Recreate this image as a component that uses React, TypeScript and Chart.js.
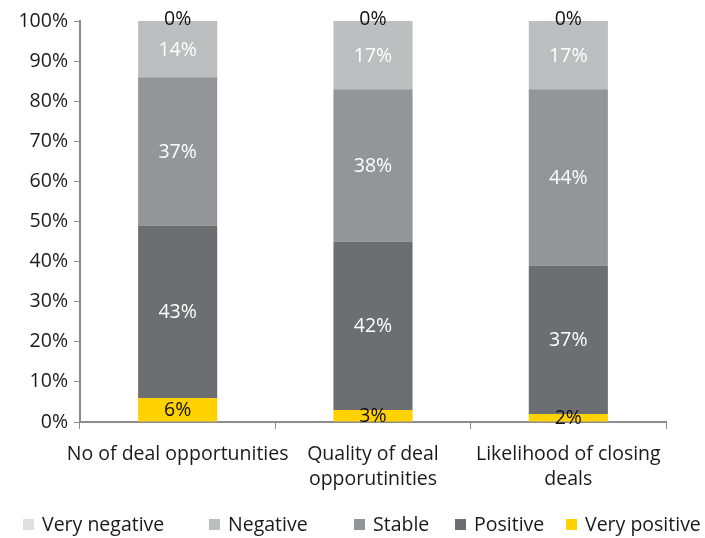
import React, { useEffect, useRef } from "react";
import { Chart, registerables } from "chart.js";

Chart.register(...registerables);

const categories: (string | string[])[] = [
  "No of deal opportunities",
  ["Quality of deal", "opporutinities"],
  ["Likelihood of closing", "deals"],
];
const veryPositive = [6, 3, 2];
const positive = [43, 42, 37];
const stable = [37, 38, 44];
const negative = [14, 17, 17];
const veryNegative = [0, 0, 0];

const seriesNames = ["Very positive", "Positive", "Stable", "Negative", "Very negative"];
const seriesColors = ["#FFD200", "#6D6E71", "#939598", "#BCBEC0", "#DEDFE0"];
const labelColors = ["#111111", "#FFFFFF", "#FFFFFF", "#FFFFFF", "#111111"];

const FONT = "'Open Sans'";
const FS = 19.5;
const TEXT = "#1a1a1a";
const legendOrder = [4, 3, 2, 1, 0];
const legendBoxX = [23, 209, 354, 455, 566];

const dataLabelPlugin = {
  id: "segLabels",
  afterDatasetsDraw(chart: any) {
    const ctx = chart.ctx;
    ctx.save();
    ctx.font = `${FS}px ${FONT}`;
    ctx.textAlign = "center";
    ctx.textBaseline = "middle";
    chart.data.datasets.forEach((ds: any, di: number) => {
      const meta = chart.getDatasetMeta(di);
      meta.data.forEach((el: any, i: number) => {
        const v = ds.data[i];
        const p = el.getProps(["x", "y", "base"], true);
        let cy = (p.y + p.base) / 2;
        if (v === 0) cy -= 3;
        ctx.fillStyle = labelColors[di];
        ctx.fillText(`${v}%`, p.x, cy + 1);
      });
    });
    ctx.restore();
  },
};

const legendPlugin = {
  id: "customLegend",
  afterDraw(chart: any) {
    const ctx = chart.ctx;
    ctx.save();
    ctx.font = `${FS}px ${FONT}`;
    ctx.textAlign = "left";
    ctx.textBaseline = "middle";
    const y = 525;
    legendOrder.forEach((di, k) => {
      const x = legendBoxX[k];
      ctx.fillStyle = seriesColors[di];
      ctx.fillRect(x, y - 6, 11, 11);
      ctx.fillStyle = TEXT;
      ctx.fillText(seriesNames[di], x + 19, y);
    });
    ctx.restore();
  },
};

export default function App() {
  const ref = useRef<HTMLCanvasElement>(null);
  useEffect(() => {
    document.body.style.margin = "0";
    const series = [veryPositive, positive, stable, negative, veryNegative];
    const chart = new Chart(ref.current!, {
      type: "bar",
      data: {
        labels: categories as any,
        datasets: series.map((d, i) => ({
          label: seriesNames[i],
          data: d,
          backgroundColor: seriesColors[i],
          borderWidth: 0,
          categoryPercentage: 1,
          barPercentage: 0.405,
        })),
      },
      options: {
        animation: false,
        responsive: false,
        devicePixelRatio: 1,
        layout: { padding: { top: 21, right: 39, left: 0, bottom: 0 } },
        plugins: { legend: { display: false }, tooltip: { enabled: false } },
        scales: {
          x: {
            stacked: true,
            grid: {
              offset: true,
              drawOnChartArea: false,
              drawTicks: true,
              tickLength: 7,
              color: "#8c8c8c",
            },
            border: { color: "#8c8c8c", width: 2 },
            ticks: {
              color: TEXT,
              font: { family: FONT, size: FS, lineHeight: 1.28 },
              maxRotation: 0,
              minRotation: 0,
              autoSkip: false,
              padding: 13,
            },
            afterFit(scale: any) {
              scale.height = 116;
            },
          },
          y: {
            stacked: true,
            min: 0,
            max: 100,
            grid: {
              drawOnChartArea: false,
              drawTicks: true,
              tickLength: 6,
              color: "#8c8c8c",
            },
            border: { color: "#8c8c8c", width: 2 },
            ticks: {
              stepSize: 10,
              color: TEXT,
              padding: 6,
              font: { family: FONT, size: FS },
              callback: (v: any) => `${v}%`,
            },
            afterFit(scale: any) {
              scale.width = 80;
            },
          },
        },
      },
      plugins: [dataLabelPlugin, legendPlugin],
    });
    return () => chart.destroy();
  }, []);
  return <canvas ref={ref} width={705} height={538} style={{ display: "block" }} />;
}
